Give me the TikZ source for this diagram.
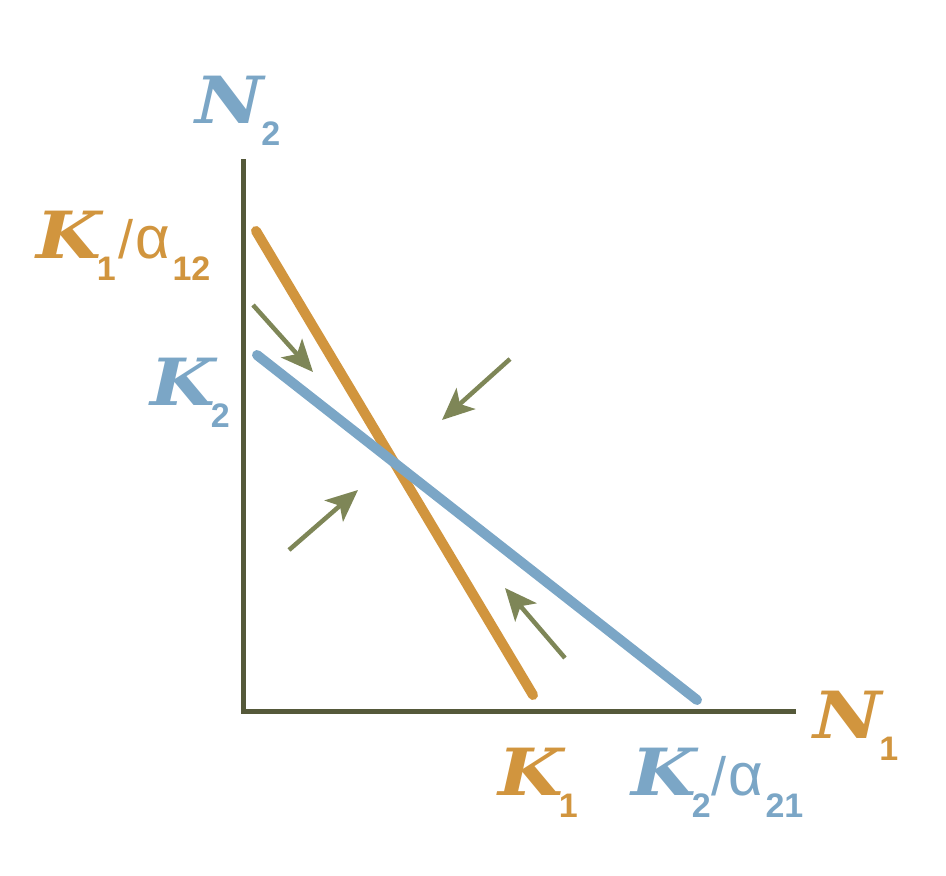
\documentclass[tikz,border=0pt]{standalone}
\usepackage{fontspec}
\setmainfont{DejaVu Serif}
\newfontfamily\subf{Liberation Sans}
\newfontfamily\subfb{Liberation Sans Bold}
\usetikzlibrary{arrows.meta}
\definecolor{orng}{HTML}{D1953E}
\definecolor{blu}{HTML}{7BA6C6}
\definecolor{axc}{HTML}{55593A}
\definecolor{arc}{HTML}{7E8657}
\newcommand\bigL[1]{\scalebox{1.15}[1]{\fontsize{65}{65}\selectfont\bfseries\itshape #1}}
\newcommand\sbs[1]{\raisebox{-22pt}{\fontsize{34}{34}\subfb #1}}
\newcommand\alf{{\fontsize{60}{60}\subf α}}
\newcommand\slsh{{\fontsize{54}{54}\subf /}}
\tikzset{
  axisline/.style={axc, line width=5pt},
  orngline/.style={orng, line width=10pt, line cap=round},
  bluline/.style={blu, line width=10pt, line cap=round},
  flowarrow/.style={arc, line width=4.5pt, -{Stealth[length=32pt, width=28pt, inset=8pt]}},
  lbl/.style={anchor=base west, inner sep=0pt, outer sep=0pt},
}
\begin{document}
\begin{tikzpicture}[x=1pt, y=-1pt]
\useasboundingbox (0,0) rectangle (946,876);
% axes
\coordinate (top) at (243,159);
\coordinate (org) at (243,711);
\coordinate (rgt) at (796,711);
\draw[axisline] (top) -- (org) -- (rgt);
% isoclines
\coordinate (oa) at (256,231);
\coordinate (ob) at (533,695);
\coordinate (ba) at (257,355);
\coordinate (bb) at (697,700);
\draw[orngline] (oa) -- (ob);
\draw[bluline] (ba) -- (bb);
% arrows
\coordinate (a1s) at (253,305); \coordinate (a1e) at (313,372);
\coordinate (a2s) at (510,359); \coordinate (a2e) at (442,420);
\coordinate (a3s) at (289,550); \coordinate (a3e) at (358,490);
\coordinate (a4s) at (565,658); \coordinate (a4e) at (505,588);
\draw[flowarrow] (a1s) -- (a1e);
\draw[flowarrow] (a2s) -- (a2e);
\draw[flowarrow] (a3s) -- (a3e);
\draw[flowarrow] (a4s) -- (a4e);
% labels
\node[lbl, text=blu] (n2) at (195,123) {\bigL{N}\kern-2pt\sbs{2}};
\node[lbl, text=orng] (k1a) at (36,258) {\bigL{K}\kern-4pt\sbs{1}\kern3pt\slsh\kern2pt\alf\kern2pt\sbs{12}};
\node[lbl, text=blu] (k2) at (150,405) {\bigL{K}\kern-4pt\sbs{2}};
\node[lbl, text=orng] (n1) at (813,738) {\bigL{N}\kern-2pt\sbs{1}};
\node[lbl, text=orng] (k1) at (498,795) {\bigL{K}\kern-4pt\sbs{1}};
\node[lbl, text=blu] (k2a) at (631,795) {\bigL{K}\kern-4pt\sbs{2}\kern1pt\slsh\kern2pt\alf\kern2pt\sbs{21}};
\end{tikzpicture}
\end{document}
